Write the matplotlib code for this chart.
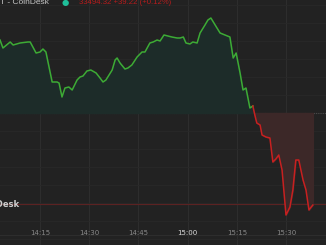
import matplotlib
matplotlib.use("Agg")
import matplotlib.pyplot as plt
import numpy as np

# minutes after 14:00, CoinDesk BTC price
minutes = [2.8, 3.7, 5.9, 6.8, 8.9, 11.3, 12.0, 13.8, 15.0, 15.9, 16.8, 18.7, 20.2, 20.8,
           21.7, 22.6, 23.8, 24.8, 26.3, 27.2, 28.1, 29.3, 30.5, 32.1, 33.3, 34.2, 35.1,
           37.0, 37.9, 38.5, 39.4, 40.9, 41.8, 43.0, 44.6, 46.1, 47.0, 48.5, 49.5, 50.7,
           51.6, 52.8, 54.0, 55.2, 56.8, 57.7, 58.7, 59.5, 60.7, 61.6, 62.9, 63.8, 65.3,
           66.2, 67.1, 68.4, 69.9, 72.9, 73.9, 74.8, 76.0, 76.9, 77.8, 79.0, 79.9, 80.5,
           81.1, 82.1, 82.7, 83.9, 85.1, 86.0, 86.9, 87.8, 88.8, 90.0, 91.2, 92.1, 93.0,
           93.9, 95.2, 96.1, 97.0, 97.7, 98.2]
prices = [33601, 33585, 33597, 33591, 33595, 33597, 33597, 33575, 33577, 33583, 33577,
          33517, 33517, 33515, 33487, 33505, 33507, 33501, 33521, 33527, 33529, 33539,
          33541, 33535, 33525, 33517, 33521, 33541, 33561, 33565, 33555, 33543, 33545,
          33551, 33567, 33577, 33577, 33595, 33597, 33601, 33599, 33611, 33609, 33607,
          33605, 33605, 33607, 33595, 33593, 33597, 33595, 33615, 33631, 33641, 33645,
          33631, 33615, 33607, 33565, 33575, 33535, 33501, 33505, 33465, 33469, 33451,
          33435, 33431, 33411, 33407, 33405, 33357, 33363, 33371, 33341, 33251, 33267,
          33301, 33361, 33361, 33321, 33301, 33261, 33267, 33271]
prev_close = 33455
last_line = 33273

tick_minutes = [15, 30, 45, 60, 75, 90]
tick_labels = ["14:15", "14:30", "14:45", "15:00", "15:15", "15:30"]
header_name = "T - CoinDesk"
header_quote = "33494.32 +39.22 (+0.12%)"
line_label = "CoinDesk"

BG = "#222222"
GREEN = "#3dab35"
RED = "#c82020"

t = np.array(minutes)
p = np.array(prices)

fig = plt.figure(figsize=(3.26, 2.45), dpi=100, facecolor=BG)
ax = fig.add_axes([0, 0, 1, 1])
ax.set_facecolor(BG)
ax.set_xlim(2.8, 102.2)
ax.set_ylim(33191, 33681)
for s in ax.spines.values():
    s.set_visible(False)

# faint grid
for m in tick_minutes:
    ax.axvline(m, color="#2d2d2d", linewidth=0.8, zorder=0)
for g in np.arange(prev_close - 36 * 7, prev_close + 36 * 7, 36):
    ax.axhline(g, color="#292929", linewidth=0.6, zorder=0)
ax.plot([0, 1], [10 / 245, 10 / 245], transform=ax.transAxes, color="#2d2d2d", linewidth=0.8)

# previous close baseline and current price line
ax.axhline(prev_close, color="#4a4a4a", linewidth=0.8, linestyle=(0, (1, 1)), zorder=1)
ax.axhline(last_line, color="#5c2222", linewidth=0.8, zorder=1)

k = int(np.argmax(p < prev_close))
ax.fill_between(t[:k + 1], p[:k + 1], prev_close, where=p[:k + 1] >= prev_close,
                interpolate=True, color="#1d2c29", zorder=1)
ax.fill_between(t[k - 1:], p[k - 1:], prev_close, where=p[k - 1:] <= prev_close,
                interpolate=True, color="#3c2828", zorder=1)
ax.plot(t[:k], p[:k], color=GREEN, linewidth=1.1, zorder=3)
ax.plot(t[k - 1:], p[k - 1:], color=RED, linewidth=1.1, zorder=3)

ax.set_yticks([])
ax.set_xticks(tick_minutes)
ax.set_xticklabels(tick_labels)
ax.tick_params(axis="x", length=0, pad=-6.5, labelsize=5, labelcolor="#8a8a8a")
for lab in ax.get_xticklabels():
    lab.set_verticalalignment("bottom")
    if lab.get_text() == "15:00":
        lab.set_color("#e0e0e0")

ax.text(20 / 326, last_line, line_label, transform=ax.get_yaxis_transform(),
        ha="right", va="center", fontsize=6, fontweight="bold", color="#cfcfcf")

fig.text(0.0, 1 - 2 / 245, header_name, ha="left", va="center", fontsize=6,
         color="#c4c4c4", family="Liberation Sans")
fig.text(65 / 326, 1 - 2 / 245, "\u25cf", ha="center", va="center", fontsize=6,
         color="#1fbf9a")
fig.text(79 / 326, 1 - 2 / 245, header_quote, ha="left", va="center", fontsize=5.6,
         color="#b81c1c", family="Liberation Sans")

fig.savefig("out.png", dpi=100, facecolor=BG)
